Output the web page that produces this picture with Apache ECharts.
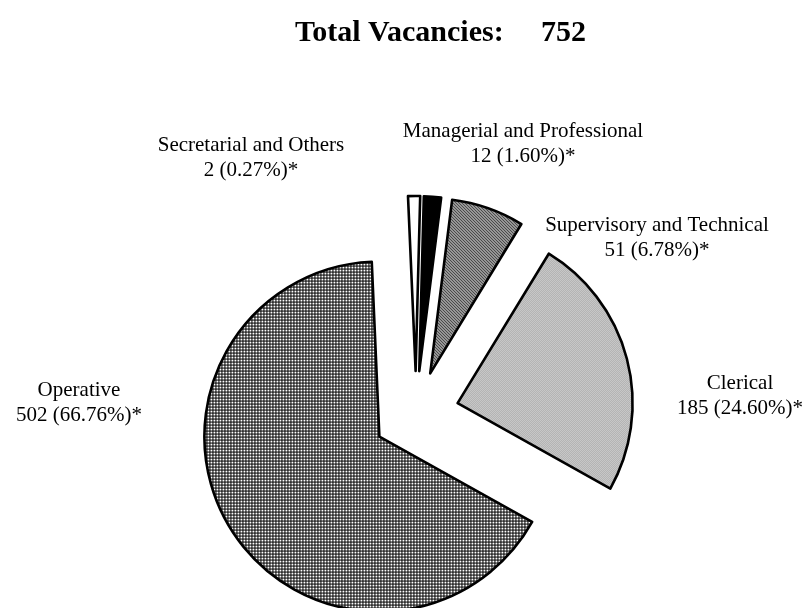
<!DOCTYPE html>
<html>
<head>
<meta charset="utf-8">
<script src="https://cdn.jsdelivr.net/npm/echarts@6/dist/echarts.min.js"></script>
<style>
  html, body { margin: 0; padding: 0; background: #fff; }
  #chart { width: 803px; height: 608px; }
</style>
</head>
<body>
<div id="chart"></div>
<script>
  'use strict'
  // categories, clockwise from the top
  var categories = ['Secretarial and Others', 'Managerial and Professional', 'Supervisory and Technical', 'Clerical', 'Operative'];
  var vacancies = [2, 12, 51, 185, 502];

  // label anchor points (centre of the two-line label)
  var labelSpots = [[251, 158], [523, 144], [657, 238], [740, 396], [79, 403]];

  var total = vacancies.reduce(function (a, b) { return a + b; }, 0);

  /*-----fill patterns-----*/
  function tile(size, paint) {
    var c = document.createElement('canvas');
    c.width = size; c.height = size;
    var ctx = c.getContext('2d');
    ctx.fillStyle = '#fff';
    ctx.fillRect(0, 0, size, size);
    paint(ctx);
    return c;
  }
  var gridTile = tile(3, function (ctx) {
    ctx.fillStyle = '#000';
    ctx.fillRect(0, 0, 3, 1);
    ctx.fillRect(0, 0, 1, 3);
  });
  var dotTile = tile(2, function (ctx) {
    ctx.fillStyle = '#8c8c8c';
    ctx.fillRect(0, 0, 1, 1);
    ctx.fillRect(1, 1, 1, 1);
    ctx.fillStyle = '#f0f0f0';
    ctx.fillRect(1, 0, 1, 1);
    ctx.fillRect(0, 1, 1, 1);
  });
  var hatchTile = tile(3, function (ctx) {
    for (var y = 0; y < 3; y++) {
      for (var x = 0; x < 3; x++) {
        var k = (x - y + 3) % 3;
        if (k === 0) { ctx.fillStyle = '#000'; ctx.fillRect(x, y, 1, 1); }
        else if (k === 1) { ctx.fillStyle = '#7a7a7a'; ctx.fillRect(x, y, 1, 1); }
      }
    }
  });

  var fills = [
    '#ffffff',
    '#000000',
    { image: hatchTile, repeat: 'repeat' },
    { image: dotTile, repeat: 'repeat' },
    { image: gridTile, repeat: 'repeat' }
  ];

  var pieData = categories.map(function (name, i) {
    return {
      name: name,
      value: vacancies[i],
      selected: true,
      itemStyle: { color: fills[i] },
      select: { itemStyle: { color: fills[i], borderColor: '#000', borderWidth: 2.6 } }
    };
  });

  // labels: name on the first line, count and share on the second
  var labelText = categories.map(function (name, i) {
    return {
      type: 'text',
      silent: true,
      style: {
        text: name + '\n' + vacancies[i] + ' (' + (vacancies[i] / total * 100).toFixed(2) + '%)*',
        x: labelSpots[i][0],
        y: labelSpots[i][1],
        align: 'center',
        verticalAlign: 'middle',
        fontFamily: 'Liberation Serif',
        fontSize: 21,
        lineHeight: 25,
        fill: '#000'
      }
    };
  });

  var chart = echarts.init(document.getElementById('chart'), null, { renderer: 'canvas' });

  var option = {
    animation: false,
    backgroundColor: '#fff',
    title: {
      text: 'Total Vacancies:     ' + total,
      left: 290,
      top: 13,
      textStyle: {
        fontFamily: 'Liberation Serif',
        fontSize: 30,
        fontWeight: 'bold',
        color: '#000'
      }
    },
    graphic: labelText,
    series: [
      {
        type: 'pie',
        center: [416, 414],
        radius: 175,
        startAngle: 92.5,
        minAngle: 4,
        clockwise: true,
        selectedMode: 'multiple',
        selectedOffset: 43,
        emphasis: { disabled: true },
        itemStyle: {
          borderColor: '#000',
          borderWidth: 2.6
        },
        label: { show: false },
        labelLine: { show: false },
        data: pieData
      }
    ]
  };

  chart.setOption(option);
</script>
</body>
</html>
